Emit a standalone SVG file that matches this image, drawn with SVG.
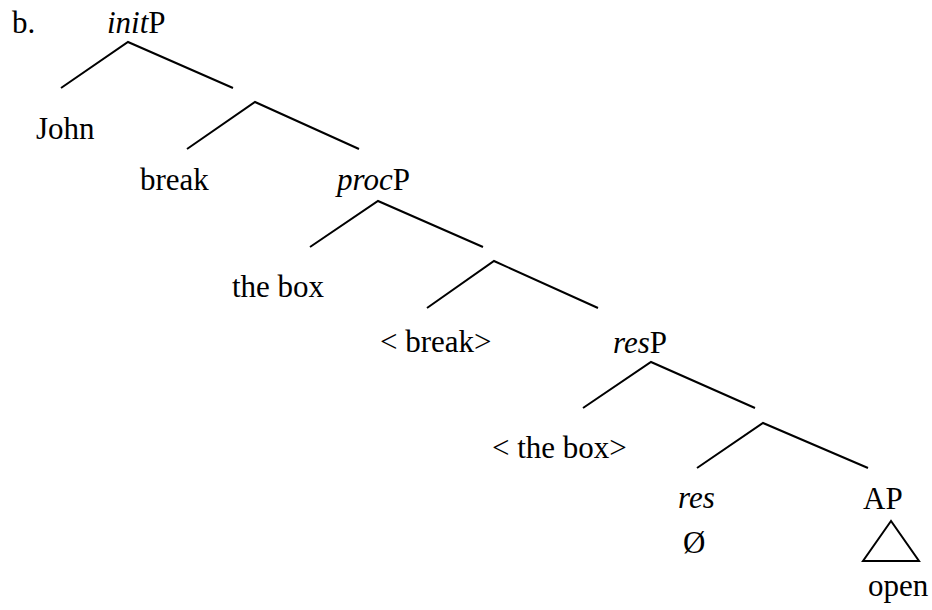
<svg xmlns="http://www.w3.org/2000/svg" width="932" height="610" viewBox="0 0 932 610">
<style>
text { font-family: "Liberation Serif", "Times New Roman", serif; font-size: 31px; fill: #000; }
.it { font-style: italic; }
.edge { stroke: #000; stroke-width: 2; fill: none; stroke-linecap: butt; }
</style>
<rect width="932" height="610" fill="#fff"/>
<text x="12" y="33">b.</text>
<g id="initP"><text x="107" y="33"><tspan class="it">init</tspan>P</text></g>
<g id="John"><text x="36" y="139">John</text></g>
<g id="break"><text x="140" y="190">break</text></g>
<g id="procP"><text x="337" y="190"><tspan class="it">proc</tspan>P</text></g>
<g id="thebox"><text x="232" y="297">the box</text></g>
<g id="breakTrace"><text x="380" y="352">&lt; break&gt;</text></g>
<g id="resP"><text x="613" y="353"><tspan class="it">res</tspan>P</text></g>
<g id="theboxTrace"><text x="492" y="458">&lt; the box&gt;</text></g>
<g id="res"><text x="678" y="508" class="it">res</text><text x="683" y="553">Ø</text></g>
<g id="AP"><text x="863" y="509">AP</text><polygon class="edge" points="891,521 863,561 919,561"/><text x="868" y="596">open</text></g>
<g id="connectors">
<polyline class="edge" points="61,88 128,42 233,88"/>
<polyline class="edge" points="187,149 255,102 359,149"/>
<polyline class="edge" points="310,247 378,201 483,247"/>
<polyline class="edge" points="427,308 494,261 598,308"/>
<polyline class="edge" points="583,408 651,362 755,408"/>
<polyline class="edge" points="697,468 763,423 868,468"/>
</g>
</svg>
